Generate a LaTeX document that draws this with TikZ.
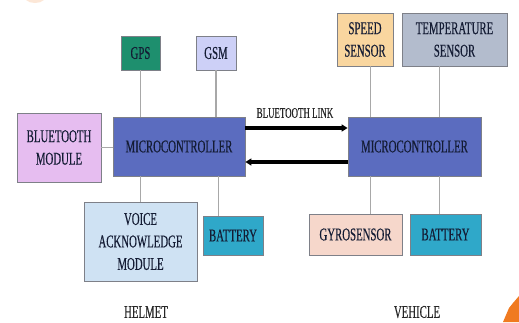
\documentclass[tikz,border=0pt]{standalone}
\usepackage{fontspec}
\setmainfont{Liberation Serif}[FakeStretch=0.6, FakeBold=0.3]
\usetikzlibrary{arrows.meta}
\definecolor{boxline}{HTML}{7E8088}
\definecolor{conn}{HTML}{A8A8A8}
\definecolor{txt}{HTML}{141C34}
\definecolor{gpsc}{HTML}{1E8F6E}
\definecolor{gsmc}{HTML}{CDD0F7}
\definecolor{btc}{HTML}{E6BDF0}
\definecolor{mcc}{HTML}{5B6CBF}
\definecolor{voicec}{HTML}{CFE2F3}
\definecolor{batc}{HTML}{2FA8C9}
\definecolor{spdc}{HTML}{F9D69F}
\definecolor{tempc}{HTML}{B3BCCD}
\definecolor{gyroc}{HTML}{F6D7CB}
\definecolor{deco}{HTML}{F07A20}
\begin{document}
\begin{tikzpicture}[x=1pt,y=-1pt,
  box/.style={draw=boxline, line width=0.8pt, inner sep=0pt, align=center,
    font=\fontsize{18}{22.5}\selectfont, text=txt},
  link/.style={draw=conn, line width=1.1pt},
  bt/.style={line width=3.2pt, -{Triangle[length=6pt,width=7pt]}},
  lbl/.style={inner sep=0pt, font=\fontsize{18}{20}\selectfont, text=black!85}]
\useasboundingbox (0,0) rectangle (519,322);
% decorations
\fill[deco!18] (26,0) .. controls (30,4) and (40,4) .. (44,0) -- cycle;
\fill[deco] (503,322) -- (509,308) -- (513,303) -- (519,296) -- (519,322) -- cycle;
% helmet side
\node[box, fill=gpsc, minimum width=39pt, minimum height=34pt] (gps) at (140.5,53) {GPS};
\node[box, fill=gsmc, minimum width=40pt, minimum height=34pt] (gsm) at (216,53) {GSM};
\node[box, fill=btc, minimum width=84pt, minimum height=69pt] (btm) at (59,147.5) {BLUETOOTH\\MODULE};
\node[box, fill=mcc, minimum width=132pt, minimum height=59pt] (mcl) at (179,146.5) {MICROCONTROLLER};
\node[box, fill=voicec, minimum width=113pt, minimum height=79pt] (voice) at (140.5,241.5) {VOICE\\ACKNOWLEDGE\\MODULE};
\node[box, fill=batc, minimum width=60pt, minimum height=39pt] (batl) at (233,235.5) {BATTERY};
% vehicle side
\node[box, fill=spdc, minimum width=56pt, minimum height=53pt] (spd) at (365,39.5) {SPEED\\SENSOR};
\node[box, fill=tempc, minimum width=105pt, minimum height=53pt] (temp) at (454.5,39.5) {TEMPERATURE\\SENSOR};
\node[box, fill=mcc, minimum width=133pt, minimum height=59pt] (mcr) at (414.5,146.5) {MICROCONTROLLER};
\node[box, fill=gyroc, minimum width=93pt, minimum height=41pt] (gyro) at (355.5,234.5) {GYROSENSOR};
\node[box, fill=batc, minimum width=71pt, minimum height=41pt] (batr) at (445.5,234.5) {BATTERY};
% labels
\node[font=\fontsize{14.8}{16}\selectfont, text=black!85] (btl) at (295,113) {BLUETOOTH LINK};
\node[lbl] (helmet) at (146,312) {HELMET};
\node[lbl] (vehicle) at (417,312) {VEHICLE};
% connectors helmet
\draw[link] (gps.south) -- (gps.south |- mcl.north);
\draw[link] (gsm.south) -- (gsm.south |- mcl.north);
\draw[link] (btm.east) -- (btm.east -| mcl.west);
\draw[link] (voice.north |- mcl.south) -- (voice.north);
\coordinate (la) at ([xshift=16pt]batl.north west);
\draw[link] (la |- mcl.south) -- (la);
% connectors vehicle
\coordinate (ra) at ([xshift=23pt]mcr.north west);
\coordinate (rb) at ([xshift=92pt]mcr.north west);
\draw[link] (ra |- spd.south) -- (ra);
\draw[link] (rb |- temp.south) -- (rb);
\draw[link] (ra |- mcr.south) -- (ra |- gyro.north);
\draw[link] (rb |- mcr.south) -- (rb |- batr.north);
% bluetooth link arrows
\draw[bt] ([yshift=18.5pt]mcl.east) -- ([yshift=18.5pt]mcr.west);
\draw[bt] ([yshift=-15.5pt]mcr.west) -- ([yshift=-15.5pt]mcl.east);
\end{tikzpicture}
\end{document}
